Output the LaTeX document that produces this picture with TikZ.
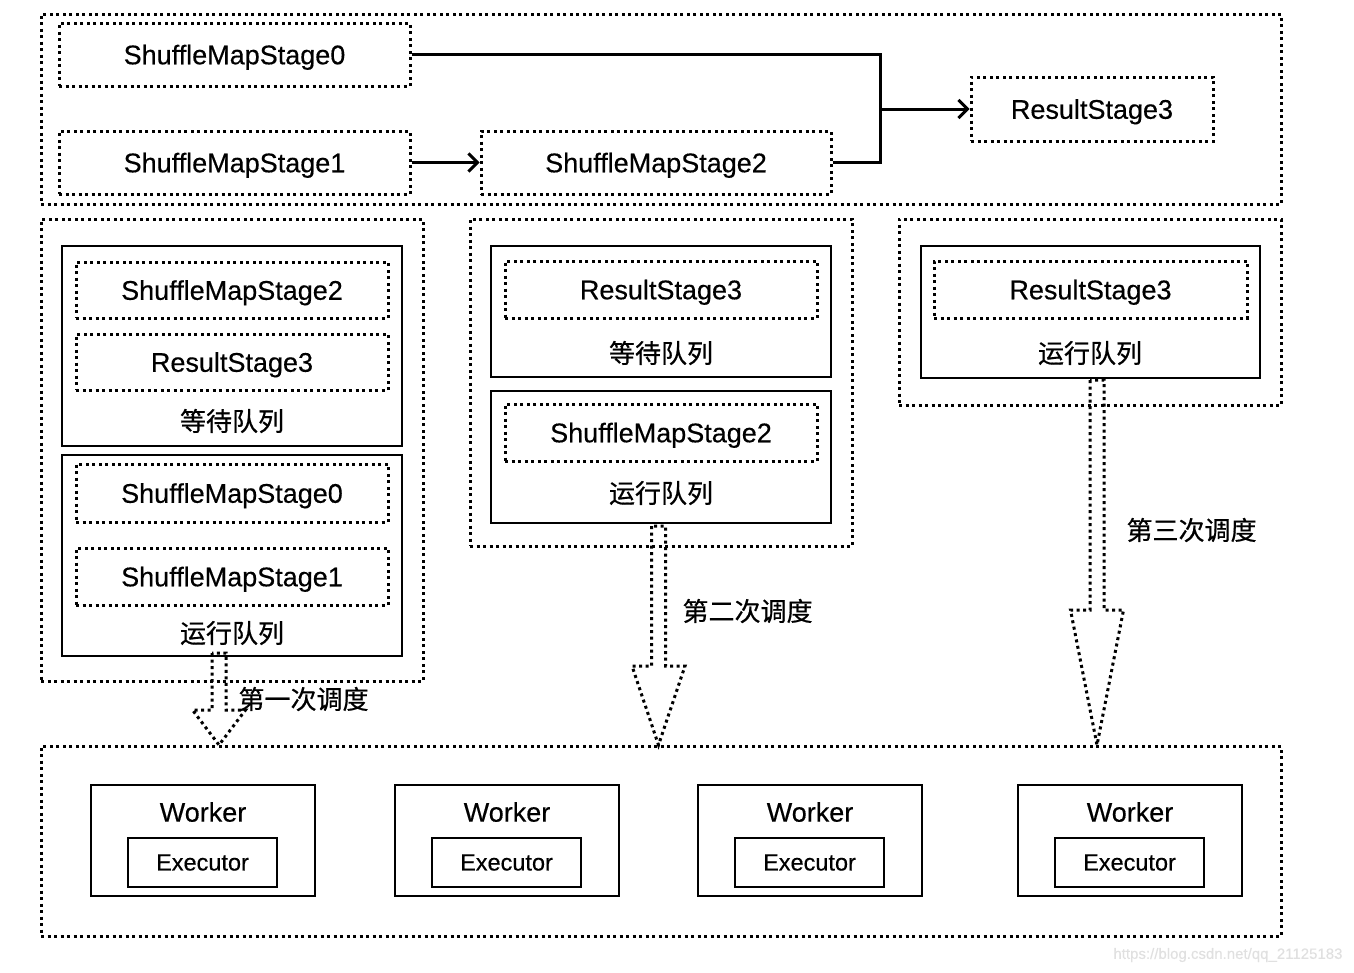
\documentclass[tikz,border=0pt]{standalone}
\usepackage{fontspec}
\setmainfont{Liberation Sans}[FakeBold=0.4]
\newfontfamily\cjk{Noto Sans CJK SC}[FakeBold=0.6]
\usetikzlibrary{arrows.meta}
\tikzset{
  dots/.style={draw, line width=3pt, dash pattern=on 3pt off 3.5pt},
  panel/.style={dots, inner sep=0pt},
  stage/.style={dots, inner sep=0pt, text depth=0pt, font=\fontsize{27}{32}\selectfont},
  queue/.style={draw, line width=2pt, inner sep=0pt},
  qlabel/.style={font=\cjk\fontsize{26}{30}\selectfont},
  link/.style={line width=3pt},
  bigarrow/.style={dots, line join=miter},
}
\begin{document}
\begin{tikzpicture}[x=1pt, y=-1pt]
\useasboundingbox (0,0) rectangle (1354,972);

% stage graph
\node[panel, minimum width=1240pt, minimum height=190pt] (graph) at (661,109) {};
\node[stage, minimum width=351pt, minimum height=63pt] (s0) at (234.5,54.5) {ShuffleMapStage0};
\node[stage, minimum width=351pt, minimum height=63pt] (s1) at (234.5,162.5) {ShuffleMapStage1};
\node[stage, minimum width=350pt, minimum height=63pt] (s2) at (656,162.5) {ShuffleMapStage2};
\node[stage, minimum width=242pt, minimum height=64pt] (r3) at (1092,109) {ResultStage3};
\coordinate (join) at (880,109);
\draw[link] (s0.east) -| (join);
\draw[link] (s2.east) -| (join);
\draw[link, -{Straight Barb[length=9pt, width=18pt]}] (join) -- (r3.west);
\draw[link, -{Straight Barb[length=9pt, width=18pt]}] (s1.east) -- (s2.west);

% first round
\node[panel, minimum width=382pt, minimum height=462pt] (round1) at (232,450) {};
\node[queue, minimum width=340pt, minimum height=200pt] (wait1) at (232,346) {};
\node[stage, minimum width=312pt, minimum height=56pt] (wait1a) at (232,290) {ShuffleMapStage2};
\node[stage, minimum width=312pt, minimum height=56pt] (wait1b) at (232,362) {ResultStage3};
\node[qlabel] (wait1l) at (232,421) {等待队列};
\node[queue, minimum width=340pt, minimum height=201pt] (run1) at (232,555.5) {};
\node[stage, minimum width=312pt, minimum height=58pt] (run1a) at (232,493) {ShuffleMapStage0};
\node[stage, minimum width=312pt, minimum height=57pt] (run1b) at (232,576.5) {ShuffleMapStage1};
\node[qlabel] (run1l) at (232,633) {运行队列};

% second round
\node[panel, minimum width=382pt, minimum height=327pt] (round2) at (661,382.5) {};
\node[queue, minimum width=340pt, minimum height=131pt] (wait2) at (661,311.5) {};
\node[stage, minimum width=312pt, minimum height=57pt] (wait2a) at (661,289.5) {ResultStage3};
\node[qlabel] (wait2l) at (661,353) {等待队列};
\node[queue, minimum width=340pt, minimum height=132pt] (run2) at (661,457) {};
\node[stage, minimum width=312pt, minimum height=57pt] (run2a) at (661,432.5) {ShuffleMapStage2};
\node[qlabel] (run2l) at (661,493) {运行队列};

% third round
\node[panel, minimum width=382pt, minimum height=186pt] (round3) at (1090,312) {};
\node[queue, minimum width=339pt, minimum height=132pt] (run3) at (1090.5,312) {};
\node[stage, minimum width=313pt, minimum height=57pt] (run3a) at (1090.5,289.5) {ResultStage3};
\node[qlabel] (run3l) at (1090,353) {运行队列};

% cluster
\node[panel, minimum width=1240pt, minimum height=190pt] (cluster) at (661,841) {};
\foreach \i/\x in {1/203, 2/507, 3/810, 4/1130} {
  \node[queue, minimum width=224pt, minimum height=111pt] (worker\i) at (\x,840.5) {};
  \node[font=\fontsize{27}{32}\selectfont] (wlabel\i) at (\x,812) {Worker};
  \node[queue, minimum width=149pt, minimum height=49pt, font=\fontsize{23.5}{28}\selectfont] (exec\i) at (\x-0.5,862.5) {Executor};
}

% scheduling arrows
\foreach \x/\top/\neck in {219/653/710, 658.5/526/666, 1097/380/610}
  \draw[bigarrow] (\x-7,\top) -- (\x-7,\neck) -- (\x-26.5,\neck) -- (\x,745)
    -- (\x+26.5,\neck) -- (\x+7,\neck) -- (\x+7,\top) -- cycle;
\node[qlabel, anchor=west] (sched1) at (235,699) {第一次调度};
\node[qlabel, anchor=west] (sched2) at (679,611) {第二次调度};
\node[qlabel, anchor=west] (sched3) at (1123,530) {第三次调度};

\node[anchor=east, text=black!12, font=\fontsize{15}{18}\selectfont] (mark) at (1346,955) {https://blog.csdn.net/qq\_21125183};
\end{tikzpicture}
\end{document}
